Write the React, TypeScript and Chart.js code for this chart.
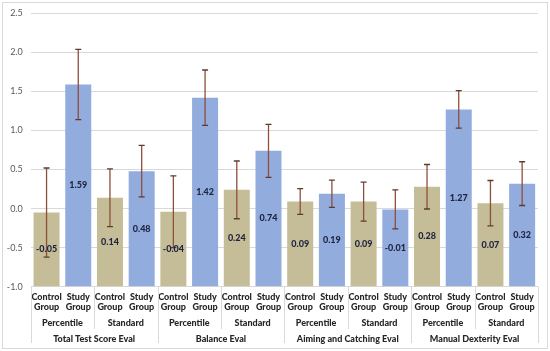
import React, { useEffect, useRef } from 'react';
import { Chart, registerables } from 'chart.js';

Chart.register(...registerables);

const evaluations = ['Total Test Score Eval', 'Balance Eval', 'Aiming and Catching Eval', 'Manual Dexterity Eval'];
const scoreTypes = ['Percentile', 'Standard'];
const groupLabels = [['Control', 'Group'], ['Study', 'Group']];
const controlValues = [-0.05, 0.14, -0.04, 0.24, 0.09, 0.09, 0.28, 0.07];
const studyValues = [1.59, 0.48, 1.42, 0.74, 0.19, -0.01, 1.27, 0.32];
const controlErrors = [0.57, 0.37, 0.46, 0.37, 0.165, 0.25, 0.285, 0.29];
const studyErrors = [0.45, 0.33, 0.355, 0.34, 0.175, 0.25, 0.24, 0.28];
const yMin = -1.0;
const yMax = 2.5;
const yStep = 0.5;

const CONTROL_COLOR = '#C4BD97';
const STUDY_COLOR = '#91ACDD';
const ERR_COLOR = '#8E4F3A';
const GRID_COLOR = '#D9D9D9';
const FONT = 'Lato, "Open Sans", sans-serif';

const labels: string[][] = [];
const values: number[] = [];
const errors: number[] = [];
const colors: string[] = [];
for (let i = 0; i < controlValues.length; i++) {
  labels.push(groupLabels[0]);
  values.push(controlValues[i]);
  errors.push(controlErrors[i]);
  colors.push(CONTROL_COLOR);
  labels.push(groupLabels[1]);
  values.push(studyValues[i]);
  errors.push(studyErrors[i]);
  colors.push(STUDY_COLOR);
}

const overlayPlugin = {
  id: 'overlay',
  beforeDraw(chart: any) {
    const ctx = chart.ctx;
    ctx.save();
    ctx.fillStyle = '#ffffff';
    ctx.fillRect(0, 0, chart.width, chart.height);
    ctx.strokeStyle = GRID_COLOR;
    ctx.lineWidth = 1;
    ctx.strokeRect(2.5, 2.5, chart.width - 5, chart.height - 5);
    ctx.restore();
  },
  afterDatasetsDraw(chart: any) {
    const ctx = chart.ctx;
    const meta = chart.getDatasetMeta(0);
    const ys = chart.scales.y;
    ctx.save();
    meta.data.forEach((bar: any, i: number) => {
      const v = values[i];
      const e = errors[i];
      const x = bar.x;
      const yT = ys.getPixelForValue(v + e);
      const yB = ys.getPixelForValue(v - e);
      ctx.strokeStyle = ERR_COLOR;
      ctx.lineWidth = 1.3;
      ctx.beginPath();
      ctx.moveTo(x, yT);
      ctx.lineTo(x, yB);
      ctx.stroke();
      ctx.strokeStyle = '#5E3B30';
      ctx.beginPath();
      ctx.moveTo(x - 3, yT);
      ctx.lineTo(x + 3, yT);
      ctx.moveTo(x - 3, yB);
      ctx.lineTo(x + 3, yB);
      ctx.stroke();
    });
    ctx.fillStyle = '#1F2340';
    ctx.font = '900 9px ' + FONT;
    ctx.textAlign = 'center';
    ctx.textBaseline = 'middle';
    meta.data.forEach((bar: any, i: number) => {
      const mid = (bar.y + bar.base) / 2;
      ctx.fillText(values[i].toFixed(2), bar.x, mid);
    });
    ctx.restore();
  },
  afterDraw(chart: any) {
    const ctx = chart.ctx;
    const xs = chart.scales.x;
    const area = chart.chartArea;
    const n = values.length;
    const half = (xs.getPixelForValue(1) - xs.getPixelForValue(0)) / 2;
    const edge = (b: number) => (b < n ? xs.getPixelForValue(b) - half : xs.getPixelForValue(n - 1) + half);
    ctx.save();
    ctx.strokeStyle = GRID_COLOR;
    ctx.lineWidth = 1;
    for (let b = 0; b <= n; b += 2) {
      const px = Math.round(edge(b)) + 0.5;
      const full = b % 4 === 0;
      ctx.beginPath();
      ctx.moveTo(px, area.bottom);
      ctx.lineTo(px, full ? 343 : 329);
      ctx.stroke();
    }
    ctx.fillStyle = '#262626';
    ctx.font = '900 9px ' + FONT;
    ctx.textAlign = 'center';
    ctx.textBaseline = 'middle';
    for (let k = 0; k < evaluations.length * scoreTypes.length; k++) {
      const cx = (edge(k * 2) + edge(k * 2 + 2)) / 2;
      ctx.fillText(scoreTypes[k % scoreTypes.length], cx, 323.5);
    }
    for (let k = 0; k < evaluations.length; k++) {
      const cx = (edge(k * 4) + edge(k * 4 + 4)) / 2;
      ctx.fillText(evaluations[k], cx, 339.5);
    }
    ctx.restore();
  },
};

export default function App() {
  const ref = useRef<HTMLCanvasElement>(null);
  useEffect(() => {
    if (!ref.current) return;
    const chart = new Chart(ref.current, {
      type: 'bar',
      data: {
        labels,
        datasets: [
          {
            data: values,
            backgroundColor: colors,
            base: yMin,
            barPercentage: 0.82,
            categoryPercentage: 1,
          } as any,
        ],
      },
      options: {
        animation: false,
        responsive: false,
        maintainAspectRatio: false,
        layout: { padding: { left: 0, right: 12, top: 12, bottom: 0 } },
        plugins: { legend: { display: false }, tooltip: { enabled: false } },
        scales: {
          x: {
            grid: { display: false, drawTicks: false },
            border: { display: false },
            ticks: {
              color: '#262626',
              font: { family: FONT, size: 9, weight: 900, lineHeight: 1.15 },
              padding: 5,
              maxRotation: 0,
              autoSkip: false,
            },
            afterFit: (s: any) => {
              s.height = 64.3;
            },
          },
          y: {
            min: yMin,
            max: yMax,
            grid: { color: GRID_COLOR, drawTicks: false },
            border: { display: false },
            ticks: {
              stepSize: yStep,
              color: '#595959',
              padding: 8,
              font: { family: FONT, size: 9 },
              callback: (v: any) => Number(v).toFixed(1),
            },
            afterFit: (s: any) => {
              s.width = 30.7;
            },
          },
        },
      },
      plugins: [overlayPlugin],
    });
    return () => chart.destroy();
  }, []);
  return (
    <div style={{ position: 'fixed', left: 0, top: 0, width: 550, height: 351 }}>
      <canvas ref={ref} width={550} height={351} style={{ width: 550, height: 351 }} />
    </div>
  );
}
